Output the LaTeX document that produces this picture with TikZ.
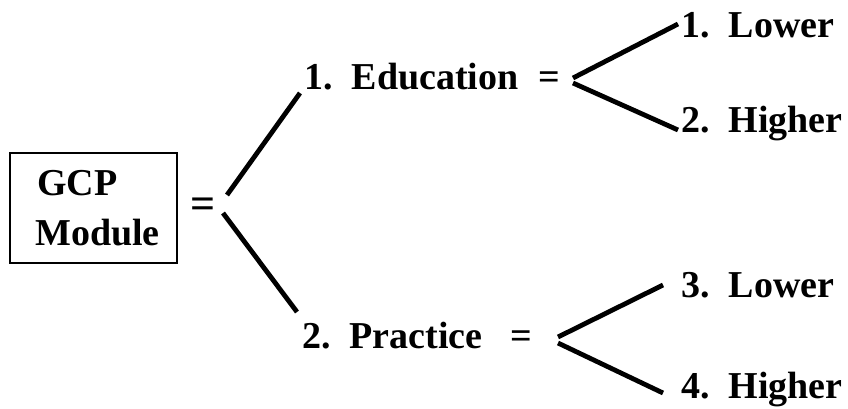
\documentclass[tikz,border=0pt]{standalone}
\usepackage{fontspec}
\setmainfont{Liberation Serif}
\begin{document}
\begin{tikzpicture}[x=1pt,y=-1pt,
  lbl/.style={anchor=base west,inner sep=0pt,font=\fontsize{38}{40}\selectfont\bfseries},
  bigeq/.style={anchor=base west,inner sep=0pt,font=\fontsize{44}{46}\selectfont\bfseries},
  branch/.style={line width=4.8pt},
  framebox/.style={draw,line width=2pt,minimum width=167pt,minimum height=110pt,inner sep=0pt}]
\useasboundingbox (0,0) rectangle (848,408);
\node[framebox] (box) at (93.5,208) {};
\node[lbl] (gcp) at (37,195) {GCP};
\node[lbl] (mod) at (35,245) {Module};
\node[bigeq] (eq0) at (190,218) {=};
\node[lbl] (edu) at (304,89) {1.\hspace{0.5em}Education};
\node[lbl] (eq1) at (538,89) {=};
\node[lbl] (l1) at (681,37) {1.\hspace{0.5em}Lower};
\node[lbl] (h2) at (681,132) {2.\hspace{0.5em}Higher};
\node[lbl] (prac) at (302,348) {2.\hspace{0.5em}Practice};
\node[lbl] (eq2) at (510,348) {=};
\node[lbl] (l3) at (681,297) {3.\hspace{0.5em}Lower};
\node[lbl] (h4) at (681,398) {4.\hspace{0.5em}Higher};
\coordinate (a0) at (227,195);
\coordinate (a1) at (300,93);
\coordinate (b0) at (223,213);
\coordinate (b1) at (297,312);
\coordinate (c0) at (573,78);
\coordinate (c1) at (678,24);
\coordinate (d0) at (573,83);
\coordinate (d1) at (678,130);
\coordinate (e0) at (558,337);
\coordinate (e1) at (663,285);
\coordinate (f0) at (558,343);
\coordinate (f1) at (663,393);
\draw[branch] (a0) -- (a1);
\draw[branch] (b0) -- (b1);
\draw[branch] (c0) -- (c1);
\draw[branch] (d0) -- (d1);
\draw[branch] (e0) -- (e1);
\draw[branch] (f0) -- (f1);
\end{tikzpicture}
\end{document}
